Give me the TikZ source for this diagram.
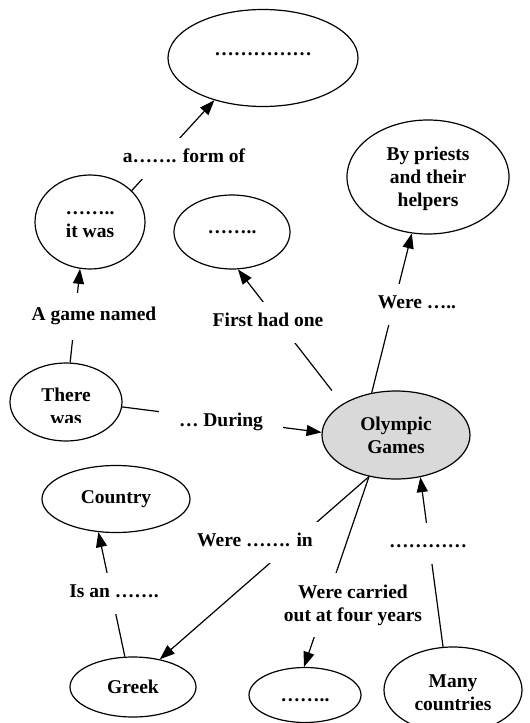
\documentclass[tikz,border=0pt]{standalone}
\usepackage{fontspec}
\setmainfont{Liberation Serif}
\usetikzlibrary{shapes.geometric,arrows.meta}
\pgfdeclarelayer{bg}
\pgfsetlayers{bg,main}
\definecolor{olyfill}{RGB}{217,217,217}
\tikzset{
 txt/.style={font=\bfseries\fontsize{19.5}{23}\selectfont},
 ell/.style={txt, draw, ellipse, line width=1.2pt, inner sep=0pt, align=center},
 lbl/.style={txt, fill=white, inner xsep=14pt, inner ysep=11pt, text height=14pt, text depth=5pt},
 lblm/.style={txt, fill=white, inner xsep=10pt, inner ysep=12pt, align=center},
 con/.style={line width=1.2pt, -{Triangle[length=15pt,width=11pt]}},
}
\begin{document}
\begin{tikzpicture}[x=1pt,y=-1pt]
\useasboundingbox (0,0) rectangle (530,723);
% concepts
\node[ell, minimum width=190pt, minimum height=97pt, text height=3pt, text depth=8pt] (top) at (263,58) {……………};
\node[ell, minimum width=110pt, minimum height=94pt, text height=31pt, text depth=0pt] (itwas) at (90,222) {……..\\it was};
\node[ell, minimum width=116pt, minimum height=74pt] (dotsA) at (232,232) {……..};
\node[ell, minimum width=162pt, minimum height=114pt, text height=62pt, text depth=4pt] (priests) at (428,177) {By priests\\and their\\helpers};
\node[ell, minimum width=112pt, minimum height=78pt] (there) at (66,402) {};
\node[ell, fill=olyfill, minimum width=148pt, minimum height=88pt] (olymp) at (396,435) {Olympic\\Games};
\node[ell, minimum width=148pt, minimum height=67pt] (country) at (116,499) {Country};
\node[ell, minimum width=126pt, minimum height=60pt] (greek) at (133,687) {Greek};
\node[ell, minimum width=112pt, minimum height=55pt, text height=13pt, text depth=0pt] (dotsB) at (305,695) {……..};
\node[ell, minimum width=138pt, minimum height=86pt, text height=40pt, text depth=0pt] (many) at (453,690) {Many\\countries};
\begin{scope}
\clip (0,370) rectangle (140,422);
\node[txt, align=center] (thereTxt) at (66,406) {There\\was};
\end{scope}
% links
\begin{pgfonlayer}{bg}
\draw[con] (itwas.37) -- (top.221);
\node[lbl] (lform) at (184,158) {a……. form of};
\draw[con] (there.84) -- (itwas.258);
\node[lbl, inner ysep=14pt] (lgame) at (94,316) {A game named};
\draw[con, shorten <=17pt] (olymp.150) -- (dotsA.279);
\node[lbl] (lfirst) at (268,322) {First had one};
\draw[con] (olymp.120) -- (priests.254);
\node[lbl] (lwere) at (417,304) {Were …..};
\draw[con] (there.355) -- (olymp.178);
\node[lbl, inner xsep=20pt] (lduring) at (221,422) {… During};
\draw[con] (olymp.237) -- (greek.46);
\node[lbl] (lin) at (255,542) {Were ……. in};
\draw[con] (olymp.237) -- (dotsB.92);
\node[lblm] (lcarried) at (353,605) {Were carried\\out at four years};
\draw[con] (many.103) -- (olymp.300);
\node[lbl] (ldots) at (428,543) {…………};
\draw[con] (greek.105) -- (country.242);
\node[lbl] (lis) at (114,593) {Is an …….};
\end{pgfonlayer}
\end{tikzpicture}
\end{document}
